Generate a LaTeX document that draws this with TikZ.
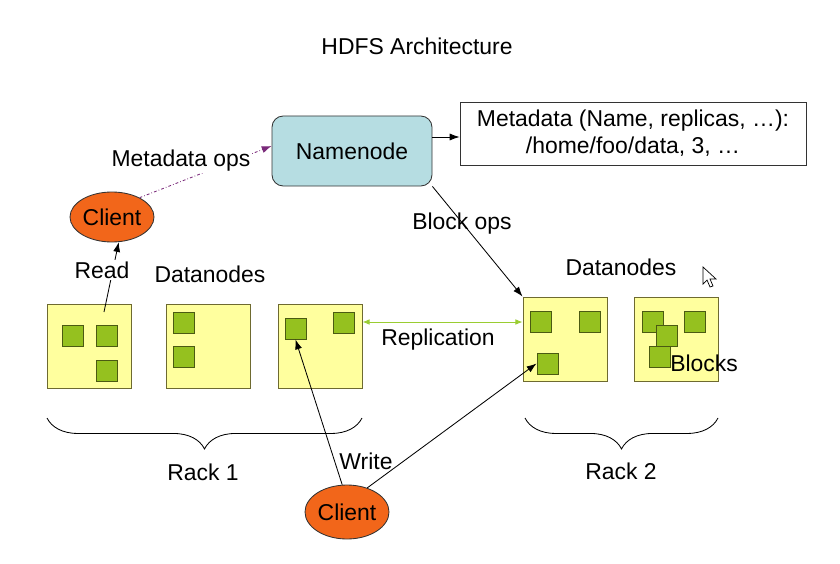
\documentclass[tikz,border=0pt]{standalone}
\usepackage{fontspec}
\setmainfont{Liberation Sans}
\usetikzlibrary{arrows.meta,shapes.geometric,decorations.pathreplacing}

\definecolor{nameblue}{HTML}{B6DDE2}
\definecolor{clientorange}{HTML}{F2661A}
\definecolor{boxyellow}{HTML}{FFFF9E}
\definecolor{boxedge}{HTML}{6E6A30}
\definecolor{blockgreen}{HTML}{95C11F}
\definecolor{blockedge}{HTML}{4B5A12}
\definecolor{replgreen}{HTML}{9ACD32}
\definecolor{opspurple}{HTML}{7A2A7A}

\tikzset{
  lbl/.style={font=\fontsize{16.3}{19}\selectfont, inner sep=0pt},
  datanode/.style={draw=boxedge, fill=boxyellow, line width=0.7pt, minimum width=84*0.025cm, minimum height=84*0.025cm, inner sep=0pt},
  blockbox/.style={draw=blockedge, fill=blockgreen, line width=0.7pt, minimum size=21*0.025cm, inner sep=0pt},
  client/.style={ellipse, draw=black!80, fill=clientorange, line width=0.6pt, minimum width=84*0.025cm, minimum height=50*0.025cm, inner sep=0pt, font=\fontsize{16.3}{19}\selectfont},
  tip/.style={-{Latex[length=7pt,width=5pt]}},
}

\begin{document}
\begin{tikzpicture}[x=0.025cm,y=-0.025cm,line width=0.6pt]
\useasboundingbox (0,0) rectangle (840,564);

% Title
\node[lbl] (title) at (417,46) {HDFS Architecture};

% Namenode and its metadata
\node[draw=black!80, fill=nameblue, rounded corners=8pt, minimum width=160*0.025cm, minimum height=70*0.025cm, font=\fontsize{16.3}{19}\selectfont] (namenode) at (352,151) {Namenode};
\node[draw=black!80, minimum width=346*0.025cm, minimum height=63*0.025cm, align=center, font=\fontsize{16.3}{19}\selectfont, inner sep=0pt] (meta) at (633,133.5) {Metadata (Name, replicas, \dots):\\/home/foo/data, 3, \dots};
\draw[tip] (namenode.east |- 0,137) -- (meta.west |- 0,137);

% Clients
\node[client] (client1) at (112,217) {Client};
\node[client, minimum height=54*0.025cm] (client2) at (347,512) {Client};

% Rack 1 datanodes
\node[datanode] (dn1) at (89.5,346) {};
\node[datanode] (dn2) at (208,346) {};
\node[datanode] (dn3) at (320,346) {};
% Rack 2 datanodes
\node[datanode] (dn4) at (565,339) {};
\node[datanode] (dn5) at (676.5,339) {};

% Blocks
\node[blockbox] (b1a) at (72.5,335.5) {};
\node[blockbox] (b1b) at (106.5,335.5) {};
\node[blockbox] (b1c) at (106.5,370.5) {};
\node[blockbox] (b2a) at (183.5,322.5) {};
\node[blockbox] (b2b) at (183.5,356.5) {};
\node[blockbox] (b3a) at (295.5,328.5) {};
\node[blockbox] (b3b) at (343.5,322.5) {};
\node[blockbox] (b4a) at (540.5,321.5) {};
\node[blockbox] (b4b) at (589.5,321.5) {};
\node[blockbox] (b4c) at (547.5,363.5) {};
\node[blockbox] (b5a) at (652.5,321.5) {};
\node[blockbox] (b5b) at (694.5,321.5) {};
\node[blockbox] (b5c) at (666.5,335.5) {};
\node[blockbox] (b5d) at (659.5,356.5) {};

% Labels
\node[lbl] (dnlabel1) at (210,274) {Datanodes};
\node[lbl] (dnlabel2) at (621,267) {Datanodes};
\node[lbl] (blocks) at (704,363) {Blocks};
\node[lbl] (rack1) at (203,472) {Rack 1};
\node[lbl] (rack2) at (621,471) {Rack 2};

% Metadata ops
\draw[opspurple, dash pattern=on 2pt off 1.5pt on 0.5pt off 1.5pt, -{Latex[length=7pt,width=5pt]}] (client1.35) -- (namenode.west |- 0,146);
\node[lbl, fill=white, inner sep=1pt] (metaops) at (181,161) {Metadata ops};

% Read
\coordinate (readstart) at (104,312);
\draw[tip] (readstart) -- (client1.-75);
\node[lbl, fill=white, inner sep=1pt] (read) at (102,270) {Read};

% Block ops
\draw[tip] (namenode.south east) -- (dn4.north west);
\node[lbl] (blockops) at (462,224) {Block ops};

% Replication
\draw[replgreen, {Latex[length=5pt,width=4pt]}-{Latex[length=5pt,width=4pt]}] (dn3.east |- 0,322) -- (dn4.west |- 0,322);
\node[lbl] (repl) at (438,340) {Replication};

% Write
\draw[tip] (client2.100) -- (b3a.south);
\draw[tip] (client2.50) -- (b4c.west);
\node[lbl] (write) at (366,461) {Write};

% Racks
\draw[decorate, decoration={brace, amplitude=22pt, raise=0pt}] (362,418) -- (47,418);
\draw[decorate, decoration={brace, amplitude=22pt, raise=0pt}] (718,418) -- (525,418);

% Mouse pointer
\draw[fill=white, line width=0.5pt] (703,267) -- (703,284) -- (707,280) -- (710,287) -- (713,286) -- (710,279) -- (716,279) -- cycle;

\end{tikzpicture}
\end{document}
